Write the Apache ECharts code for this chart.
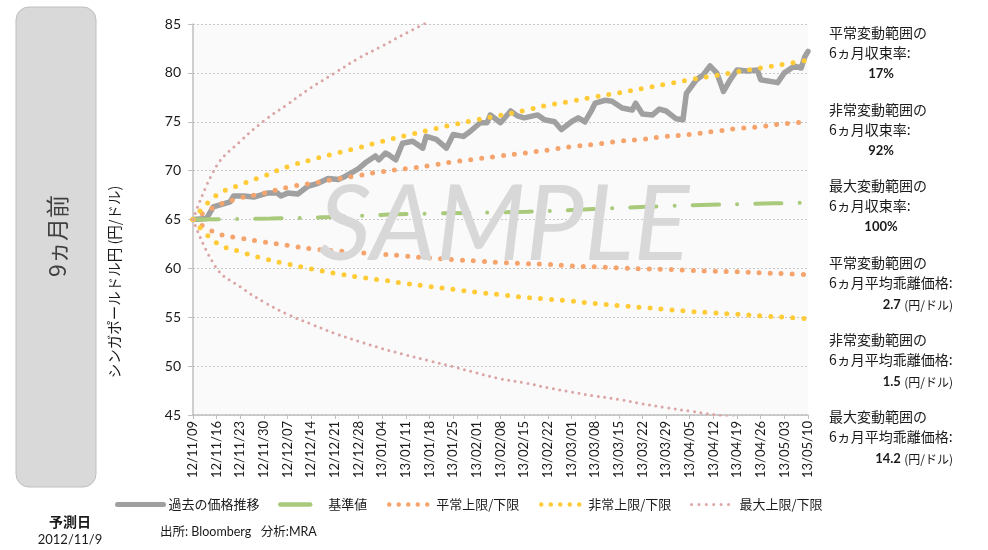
<!DOCTYPE html>
<html>
<head>
<meta charset="utf-8">
<script src="https://cdn.jsdelivr.net/npm/echarts@6/dist/echarts.min.js"></script>
<style>
html, body { margin: 0; padding: 0; background: #fff; }
#chart { width: 988px; height: 550px; }
</style>
</head>
<body>
<div id="chart"></div>
<script>
// === Données ===
const tickLabels = ['12/11/09','12/11/16','12/11/23','12/11/30','12/12/07','12/12/14','12/12/21','12/12/28',
    '13/01/04','13/01/11','13/01/18','13/01/25','13/02/01','13/02/08','13/02/15','13/02/22',
    '13/03/01','13/03/08','13/03/15','13/03/22','13/03/29','13/04/05','13/04/12','13/04/19',
    '13/04/26','13/05/03','13/05/10'];

// jours depuis 12/11/09
const priceDays = [0,4,6,7,11,12,15,18,20,22,25,26,28,31,34,37,40,43,45,47,
    49,51,54,55,57,58,60,62,65,68,69,72,75,77,80,82,85,87,88,91,
    94,96,98,102,104,107,109,112,114,116,118,119,122,124,127,130,131,133,136,138,
    140,143,145,146,149,151,153,155,157,159,161,164,167,168,173,175,178,180,181,182];
const priceValues = [65.0,65.1,66.3,66.4,66.8,67.4,67.4,67.3,67.5,67.7,67.7,67.4,67.7,67.6,68.4,68.7,69.2,69.1,69.4,69.8,
    70.2,70.8,71.5,71.1,71.8,71.6,71.1,72.8,73.0,72.3,73.5,73.2,72.3,73.7,73.5,74.0,74.9,74.9,75.7,74.9,
    76.1,75.6,75.4,75.7,75.2,75.0,74.2,75.0,75.4,75.0,76.2,76.9,77.2,77.1,76.4,76.2,76.9,75.8,75.7,76.3,
    76.1,75.3,75.2,77.9,79.3,79.8,80.7,80.0,78.1,79.3,80.3,80.2,80.3,79.3,79.0,80.0,80.7,80.5,81.6,82.2];

const baseDays = [0,23,40,58,69,99,117,134,153,172,182];
const baseValues = [65.0,65.1,65.25,65.5,65.6,65.8,66.05,66.3,66.5,66.65,66.72];

const bandDays = [0,7,14,21,28,35,42,49,56,63,70,77,84,91,98,105,112,119,126,133,140,147,154,161,168,175,182];
const normalUpper = [65.0,66.4,67.2,67.7,68.3,68.7,69.1,69.5,69.9,70.2,70.5,70.9,71.2,71.5,71.8,72.1,72.45,72.7,73.0,73.2,73.5,73.7,74.0,74.3,74.5,74.8,75.0];
const normalLower = [65.0,63.6,63.1,62.7,62.35,62.0,61.8,61.6,61.45,61.25,61.05,60.9,60.75,60.6,60.5,60.4,60.25,60.15,60.05,59.95,59.9,59.8,59.7,59.65,59.55,59.45,59.35];
const abnormalUpper = [65.0,67.5,68.55,69.45,70.4,71.1,71.75,72.35,73.0,73.6,74.15,74.7,75.2,75.65,76.15,76.7,77.1,77.55,77.95,78.4,78.85,79.3,79.7,80.1,80.5,80.9,81.3];
const abnormalLower = [65.0,62.6,61.7,61.0,60.45,59.95,59.5,59.1,58.8,58.45,58.15,57.85,57.55,57.3,57.05,56.85,56.65,56.4,56.2,56.0,55.8,55.6,55.45,55.3,55.15,55.0,54.85];
const maxUpper = [65.0,70.5,73.0,75.1,76.8,78.5,80.0,81.5,82.75,84.05,85.3];
const maxLower = [65.0,60.0,58.1,56.55,55.3,54.3,53.35,52.55,51.8,51.15,50.55,49.95,49.3,48.7,48.3,47.8,47.35,46.95,46.6,46.15,45.75,45.4,45.05,44.7];

const notes = [
    ['平常変動範囲の', '6ヵ月収束率:', '17%', ''],
    ['非常変動範囲の', '6ヵ月収束率:', '92%', ''],
    ['最大変動範囲の', '6ヵ月収束率:', '100%', ''],
    ['平常変動範囲の', '6ヵ月平均乖離価格:', '2.7', '(円/ドル)'],
    ['非常変動範囲の', '6ヵ月平均乖離価格:', '1.5', '(円/ドル)'],
    ['最大変動範囲の', '6ヵ月平均乖離価格:', '14.2', '(円/ドル)']
];
const noteTops = [33, 110, 186, 263, 340, 417];

// === Couleurs ===
const GRIS = '#A0A0A0', VERT = '#A9C97B', ORANGE = '#F6A46D', JAUNE = '#FFCC38', ROSE = '#DBA5A5';

// === Helpers ===
const FONT = 'Lato, "Noto Sans CJK JP", sans-serif';
const JP = '"Noto Sans CJK JP", sans-serif';
function pairs(days, vals) {
    return days.map((d, i) => [d, vals[i]]);
}
function bande(name, days, vals, color, w, gap) {
    return {
        name, type: 'line', smooth: 0.4, symbol: 'none',
        data: pairs(days, vals),
        lineStyle: { color, width: w, type: [0, gap], cap: 'round' },
        itemStyle: { color }
    };
}
// une légende par entrée, pour caler chaque icône comme dans l'original
function legende(name, left, w, lineStyle, pad) {
    return {
        data: [name], left, top: 493, itemWidth: w, itemHeight: 14,
        itemStyle: { opacity: 0 },
        lineStyle: Object.assign({ cap: 'round' }, lineStyle),
        textStyle: { fontFamily: JP, fontSize: 13, color: '#1a1a1a', padding: [0, 0, 0, pad] }
    };
}

// === Graphiques annexes ===
const graphics = [
    { type: 'rect', shape: { x: 16, y: 7, width: 80, height: 480, r: 13 },
      style: { fill: '#D9D9D9', stroke: '#BFBFBF', lineWidth: 1 } },
    { type: 'text', x: 57, y: 236, rotation: Math.PI / 2,
      style: { text: '9ヵ月前', font: '23px ' + JP, fill: '#404040', align: 'center', verticalAlign: 'middle' } },
    { type: 'text', x: 114, y: 282, rotation: Math.PI / 2,
      style: { text: 'シンガポールドル円 (円/ドル)', font: '14.5px ' + JP, fill: '#1a1a1a', align: 'center', verticalAlign: 'middle' } },
    { type: 'text', x: 70, y: 522,
      style: { text: '予測日', font: 'bold 14px ' + JP, fill: '#1a1a1a', align: 'center', verticalAlign: 'middle' } },
    { type: 'text', x: 70, y: 540,
      style: { text: '2012/11/9', font: '13px ' + FONT, fill: '#1a1a1a', align: 'center', verticalAlign: 'middle' } },
    { type: 'text', x: 160, y: 532,
      style: { text: '出所: Bloomberg   分析:MRA', font: '12.5px ' + FONT, fill: '#1a1a1a', verticalAlign: 'middle' } },
    { type: 'text', x: 504, y: 226, z: 100,
      style: { text: 'SAMPLE', font: 'italic 104px ' + FONT, fill: '#D8D8D8', align: 'center', verticalAlign: 'middle' } }
];
notes.forEach((n, i) => {
    const y0 = noteTops[i];
    graphics.push({ type: 'text', x: 829, y: y0,
        style: { text: n[0], font: '14px ' + JP, fill: '#1a1a1a', verticalAlign: 'middle' } });
    graphics.push({ type: 'text', x: 829, y: y0 + 20,
        style: { text: n[1], font: '14px ' + JP, fill: '#1a1a1a', verticalAlign: 'middle' } });
    if (n[3]) {
        graphics.push({ type: 'text', x: 953, y: y0 + 42,
            style: { text: '{b|' + n[2] + '} {u|' + n[3] + '}', align: 'right', verticalAlign: 'middle',
                rich: { b: { font: 'bold 13px ' + FONT, fill: '#1a1a1a' }, u: { font: '12px ' + JP, fill: '#1a1a1a' } } } });
    } else {
        graphics.push({ type: 'text', x: 881, y: y0 + 41,
            style: { text: n[2], font: 'bold 13px ' + FONT, fill: '#1a1a1a', align: 'center', verticalAlign: 'middle' } });
    }
});

// === Carte ECharts ===
const myChart = echarts.init(document.getElementById('chart'));
const option = {
    animation: false,
    backgroundColor: '#fff',
    grid: { left: 193, right: 180, top: 24, bottom: 135, show: true, backgroundColor: '#FAFAFA', borderWidth: 0 },
    legend: [
        legende('過去の価格推移', 110, 46, { width: 5, type: 'solid', color: GRIS }, 0),
        legende('基準値', 273, 30, { width: 4.5, type: 'solid', color: VERT }, 13),
        legende('平常上限/下限', 382, 40, { width: 4.5, type: [0, 9.5], color: ORANGE }, 2),
        legende('非常上限/下限', 534, 39, { width: 4.5, type: [0, 9.5], color: JAUNE }, 3),
        legende('最大上限/下限', 685, 38, { width: 3, type: [0, 7.4], color: ROSE }, 5)
    ],
    xAxis: {
        type: 'value', min: 0, max: 182, interval: 7,
        axisLine: { lineStyle: { color: '#BFBFBF', width: 1.5 } },
        axisTick: { show: true, length: 4, lineStyle: { color: '#BFBFBF' } },
        splitLine: { show: false },
        axisLabel: {
            rotate: 90, margin: 6, fontFamily: FONT, fontSize: 13, color: '#1a1a1a',
            formatter: v => tickLabels[Math.round(v / 7)] || ''
        }
    },
    yAxis: {
        type: 'value', min: 45, max: 85, interval: 5,
        axisLine: { show: true, lineStyle: { color: '#BFBFBF', width: 1.5 } },
        axisTick: { show: true, length: 5, lineStyle: { color: '#BFBFBF' } },
        splitLine: { lineStyle: { color: '#C8C8C8', type: [2, 2] } },
        axisLabel: { margin: 12, fontFamily: FONT, fontSize: 14, color: '#1a1a1a' }
    },
    series: [
        { name: '過去の価格推移', type: 'line', symbol: 'none', data: pairs(priceDays, priceValues),
          lineStyle: { color: GRIS, width: 5.5, join: 'round', cap: 'round' }, itemStyle: { color: GRIS } },
        { name: '基準値', type: 'line', smooth: true, symbol: 'none', data: pairs(baseDays, baseValues),
          lineStyle: { color: VERT, width: 4, type: [26, 18.25, 0.01, 18.25], cap: 'round' }, itemStyle: { color: VERT } },
        bande('平常上限/下限', bandDays, normalUpper, ORANGE, 5, 11),
        bande('平常上限/下限', bandDays, normalLower, ORANGE, 5, 11),
        bande('非常上限/下限', bandDays, abnormalUpper, JAUNE, 5, 11),
        bande('非常上限/下限', bandDays, abnormalLower, JAUNE, 5, 11),
        bande('最大上限/下限', bandDays.slice(0, maxUpper.length), maxUpper, ROSE, 3, 6.5),
        bande('最大上限/下限', bandDays.slice(0, maxLower.length), maxLower, ROSE, 3, 6.5)
    ],
    graphic: { elements: graphics }
};
myChart.setOption(option);
window.addEventListener('resize', () => myChart.resize());
</script>
</body>
</html>
